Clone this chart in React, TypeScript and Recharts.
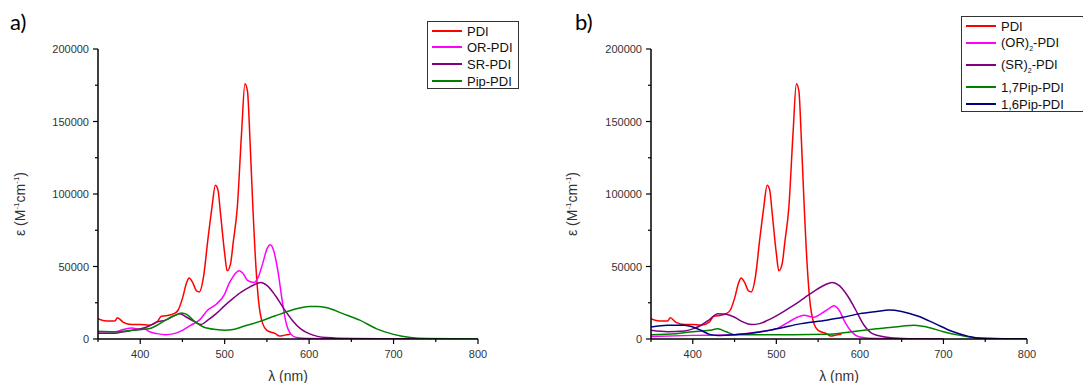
import React from 'react';
import { LineChart, Line, XAxis, YAxis, Label } from 'recharts';

// wavelength axis (nm) and absorptivity axis (M^-1 cm^-1)
const nmTicks = [350, 400, 450, 500, 550, 600, 650, 700, 750, 800];
const nmLabels = [400, 500, 600, 700, 800];
const epsTicks = [0, 25000, 50000, 75000, 100000, 125000, 150000, 175000, 200000];
const epsLabels = [0, 50000, 100000, 150000, 200000];

// PDI, same curve in both panels
const pdiNm = [350, 360, 370, 373, 380, 390, 400, 410, 420, 425, 430, 440, 445, 450, 455, 458, 462, 467, 470, 475, 480, 485, 489, 492, 495, 500, 503, 507, 510, 515, 520, 524, 527, 530, 533, 537, 540, 545, 550, 560, 565, 570, 578];
const pdiEps = [14000, 12400, 12400, 14700, 11500, 10000, 10000, 9500, 11800, 15700, 16000, 17500, 20000, 28000, 39000, 42000, 39000, 33000, 32500, 43000, 68000, 91000, 106000, 103000, 87000, 59000, 47000, 52000, 66000, 91000, 142000, 176000, 171000, 137000, 96000, 50000, 27000, 10600, 6000, 3700, 2000, 2500, 3200];

// panel a
const orNm = [350, 370, 380, 390, 400, 405, 410, 420, 430, 440, 450, 460, 470, 480, 490, 500, 505, 510, 517, 522, 527, 535, 540, 545, 550, 554, 558, 563, 568, 572, 578, 585, 600, 650, 740];
const orEps = [5000, 5000, 6500, 7600, 6500, 7000, 5300, 3700, 3000, 3700, 6000, 9500, 13000, 20000, 24000, 31000, 38000, 43000, 47000, 45000, 40500, 39000, 43000, 52000, 62000, 65000, 61000, 47000, 27000, 13000, 3700, 1000, 300, 0, 0];

const srNm = [350, 370, 380, 400, 410, 420, 430, 440, 447, 455, 465, 472, 480, 490, 500, 510, 520, 530, 537, 543, 550, 560, 570, 580, 590, 600, 610, 620, 650, 720];
const srEps = [4000, 4000, 5000, 7000, 8800, 11800, 13000, 16000, 17500, 15000, 11800, 10000, 13000, 17500, 23000, 28000, 32500, 36000, 38000, 39000, 37000, 30000, 21000, 13000, 7000, 3700, 1800, 1000, 300, 0];

const pipNm = [350, 370, 390, 410, 420, 430, 440, 449, 455, 465, 475, 490, 500, 510, 520, 540, 560, 580, 600, 610, 620, 640, 660, 680, 700, 720, 740, 800];
const pipEps = [5300, 5000, 6000, 7000, 9500, 13000, 16000, 18000, 17000, 11800, 8300, 6500, 6000, 6500, 8300, 11800, 16000, 20000, 22500, 22500, 21700, 17500, 13000, 7000, 3200, 1000, 300, 0];

// panel b
const or2Nm = [350, 400, 450, 480, 500, 515, 525, 533, 545, 555, 563, 569, 575, 582, 590, 600, 620, 700];
const or2Eps = [1800, 2500, 3000, 5000, 7000, 11800, 15000, 16400, 15000, 18000, 21000, 23000, 20000, 11800, 5000, 1400, 300, 0];

const sr2Nm = [350, 370, 390, 400, 410, 420, 430, 440, 450, 460, 470, 480, 490, 500, 520, 540, 555, 567, 575, 585, 595, 605, 615, 630, 650, 700];
const sr2Eps = [6000, 5000, 5500, 7000, 9500, 13400, 17500, 17000, 15000, 11800, 10000, 10600, 13000, 16000, 23000, 31000, 36400, 39000, 37000, 30000, 20000, 9500, 3700, 1400, 300, 0];

const pip17Nm = [350, 380, 400, 420, 430, 440, 450, 480, 520, 560, 590, 620, 650, 665, 680, 700, 720, 740, 800];
const pip17Eps = [3000, 3700, 5000, 6000, 7000, 5000, 3000, 3000, 3000, 3200, 5000, 7000, 8800, 9500, 8300, 5000, 2500, 700, 0];

const pip16Nm = [350, 370, 390, 400, 410, 420, 430, 450, 470, 500, 530, 560, 580, 600, 620, 635, 650, 670, 690, 710, 730, 750, 800];
const pip16Eps = [8300, 9500, 9500, 8300, 6000, 3200, 2500, 3000, 4000, 7000, 10600, 13000, 15000, 17500, 19000, 20000, 19000, 15700, 10600, 5300, 1800, 300, 0];

const toPoints = (nm: number[], eps: number[]) => nm.map((x, i) => ({ x, y: eps[i] }));

const seriesA = [
  { name: 'PDI', color: '#ff0000', data: toPoints(pdiNm, pdiEps) },
  { name: 'OR-PDI', color: '#ff00ff', data: toPoints(orNm, orEps) },
  { name: 'SR-PDI', color: '#800080', data: toPoints(srNm, srEps) },
  { name: 'Pip-PDI', color: '#008000', data: toPoints(pipNm, pipEps) },
];

const seriesB = [
  { name: 'PDI', color: '#ff0000', data: toPoints(pdiNm, pdiEps) },
  { name: '(OR)|-PDI', color: '#ff00ff', data: toPoints(or2Nm, or2Eps) },
  { name: '(SR)|-PDI', color: '#800080', data: toPoints(sr2Nm, sr2Eps) },
  { name: '1,7Pip-PDI', color: '#008000', data: toPoints(pip17Nm, pip17Eps) },
  { name: '1,6Pip-PDI', color: '#000080', data: toPoints(pip16Nm, pip16Eps) },
];

const FONT = '"Liberation Sans", Arial, sans-serif';

const XTick = (props: any) => {
  const { x, y, payload } = props;
  const major = nmLabels.includes(payload.value);
  return (
    <g>
      <line x1={x} y1={y} x2={x} y2={y + (major ? 5 : 3)} stroke="#000" strokeWidth={1.2} />
      {major && (
        <text x={x} y={y + 19} textAnchor="middle" fontSize={11} fill="#333" fontFamily={FONT}>
          {payload.value}
        </text>
      )}
    </g>
  );
};

const YTick = (props: any) => {
  const { x, y, payload } = props;
  const major = epsLabels.includes(payload.value);
  return (
    <g>
      <line x1={x} y1={y} x2={x - (major ? 5 : 3)} y2={y} stroke="#000" strokeWidth={1.2} />
      {major && (
        <text x={x - 9} y={y + 4} textAnchor="end" fontSize={11} fill="#333" fontFamily={FONT}>
          {payload.value}
        </text>
      )}
    </g>
  );
};

const LegendName = ({ name }: { name: string }) => {
  const parts = name.split('|');
  if (parts.length === 1) return <>{name}</>;
  return (
    <>
      {parts[0]}
      <sub style={{ fontSize: 7, verticalAlign: -4 }}>2</sub>
      {parts[1]}
    </>
  );
};

interface PanelProps {
  left: number;
  width: number;
  marginLeft: number;
  marginRight: number;
  tag: string;
  tagX: number;
  yTitleX: number;
  series: { name: string; color: string; data: { x: number; y: number }[] }[];
  legend: { left: number; top: number; width: number; height: number; rows: number[] };
}

const Panel: React.FC<PanelProps> = ({ left, width, marginLeft, marginRight, tag, tagX, yTitleX, series, legend }) => {
  const plotLeft = marginLeft + 60;
  const plotRight = width - marginRight;
  return (
    <div style={{ position: 'absolute', left, top: 0, width, height: 383 }}>
      <LineChart width={width} height={383} margin={{ top: 49, right: marginRight, bottom: 14, left: marginLeft }}>
        <XAxis
          dataKey="x"
          type="number"
          domain={[350, 800]}
          ticks={nmTicks}
          interval={0}
          allowDataOverflow
          tickLine={false}
          tickSize={0}
          tickMargin={0}
          tick={<XTick />}
          height={30}
          stroke="#000"
          strokeWidth={1.5}
        >
          <Label
            content={() => (
              <text x={(plotLeft + plotRight) / 2} y={381} textAnchor="middle" fontSize={14} fill="#333" fontFamily={FONT}>
                λ (nm)
              </text>
            )}
          />
        </XAxis>
        <YAxis
          dataKey="y"
          type="number"
          domain={[0, 200000]}
          ticks={epsTicks}
          interval={0}
          allowDataOverflow
          tickLine={false}
          tickSize={0}
          tickMargin={0}
          tick={<YTick />}
          width={60}
          stroke="#000"
          strokeWidth={1.5}
        >
          <Label
            content={() => (
              <text
                x={yTitleX}
                y={204}
                transform={`rotate(-90 ${yTitleX} 204)`}
                textAnchor="middle"
                fontSize={14}
                fill="#333"
                fontFamily={FONT}
                dominantBaseline="middle"
              >
                ε (M<tspan baselineShift="super" fontSize={8}>-1</tspan>
                <tspan>cm</tspan>
                <tspan baselineShift="super" fontSize={8}>-1</tspan>
                <tspan>)</tspan>
              </text>
            )}
          />
        </YAxis>
        {series.map((s) => (
          <Line
            key={s.name}
            data={s.data}
            dataKey="y"
            type="monotone"
            stroke={s.color}
            strokeWidth={1.5}
            dot={false}
            isAnimationActive={false}
          />
        ))}
      </LineChart>
      <div
        style={{
          position: 'absolute',
          left: tagX,
          top: 8,
          fontFamily: 'Lato, "Open Sans", sans-serif',
          fontSize: 22,
          color: '#000',
        }}
      >
        {tag}
      </div>
      <div
        style={{
          position: 'absolute',
          left: legend.left,
          top: legend.top,
          width: legend.width,
          height: legend.height,
          border: '1px solid #333',
          background: '#fff',
          boxSizing: 'border-box',
          fontFamily: FONT,
          fontSize: 13,
          color: '#111',
          overflow: 'hidden',
        }}
      >
        {series.map((s, i) => (
          <div
            key={s.name}
            style={{ position: 'absolute', left: 4, top: legend.rows[i] - 8, height: 16, display: 'flex', alignItems: 'center', whiteSpace: 'nowrap' }}
          >
            <span style={{ display: 'inline-block', width: 30, height: 1.5, background: s.color, marginRight: 5 }} />
            <span>
              <LegendName name={s.name} />
            </span>
          </div>
        ))}
      </div>
    </div>
  );
};

export default function App() {
  return (
    <div style={{ position: 'absolute', left: 0, top: 0, width: 1083, height: 383, background: '#fff', overflow: 'hidden' }}>
      <Panel
        left={0}
        width={540}
        marginLeft={38}
        marginRight={62}
        tag="a)"
        tagX={10}
        yTitleX={21}
        series={seriesA}
        legend={{ left: 427, top: 21, width: 92, height: 68, rows: [9, 25, 42, 59] }}
      />
      <Panel
        left={540}
        width={543}
        marginLeft={51}
        marginRight={56}
        tag="b)"
        tagX={35}
        yTitleX={33}
        series={seriesB}
        legend={{ left: 421, top: 16, width: 150, height: 96, rows: [9, 26, 48, 70, 87] }}
      />
    </div>
  );
}
